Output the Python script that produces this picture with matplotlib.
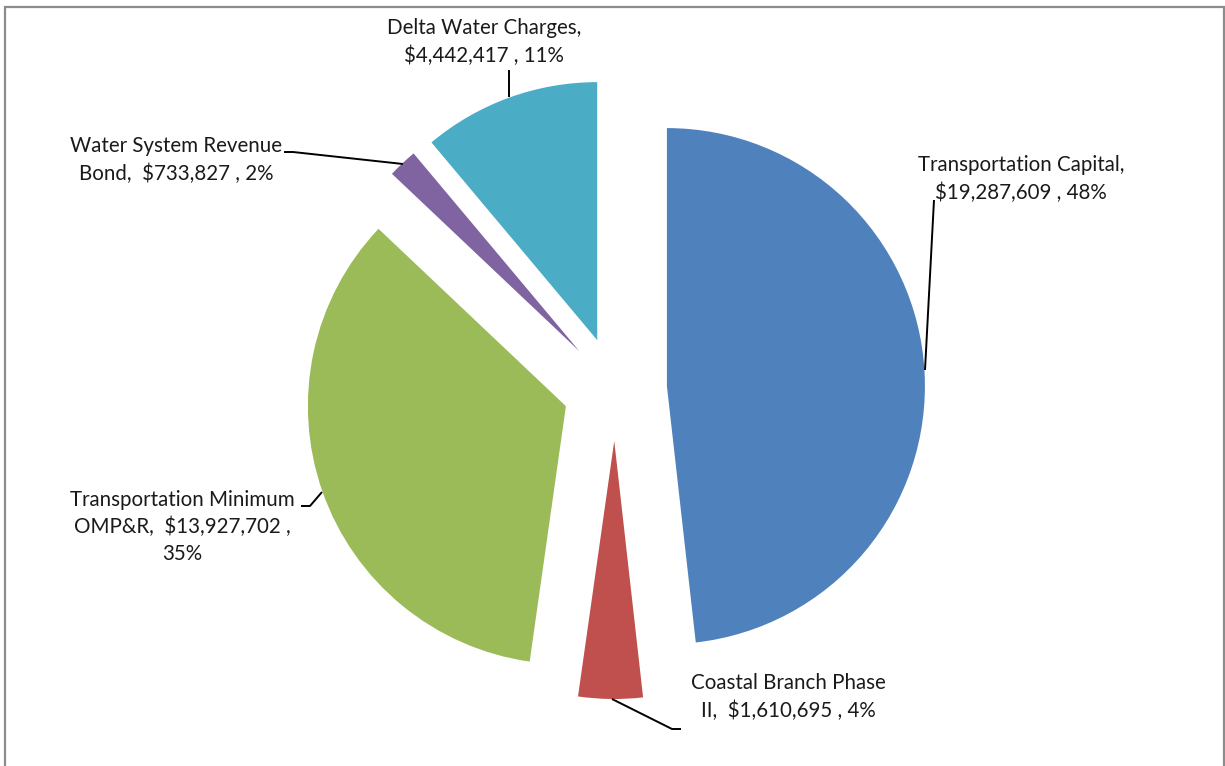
import matplotlib
matplotlib.use("Agg")
import matplotlib.pyplot as plt
from matplotlib.patches import Rectangle

categories = ["Transportation Capital", "Coastal Branch Phase II",
              "Transportation Minimum OMP&R", "Water System Revenue Bond",
              "Delta Water Charges"]
values = [19287609, 1610695, 13927702, 733827, 4442417]
percents = ["48%", "4%", "35%", "2%", "11%"]
colors = ["#4F81BD", "#C0504D", "#9BBB59", "#8064A2", "#4BACC6"]
labels = [
    "Transportation Capital,\n$19,287,609 , 48%",
    "Coastal Branch Phase\nII,  $1,610,695 , 4%",
    "Transportation Minimum\nOMP&R,  $13,927,702 ,\n35%",
    "Water System Revenue\nBond,  $733,827 , 2%",
    "Delta Water Charges,\n$4,442,417 , 11%",
]

W, H = 1225, 766
fig = plt.figure(figsize=(W / 100, H / 100), dpi=100)
fig.patch.set_facecolor("white")
ax = fig.add_axes([0, 0, 1, 1])
ax.set_xlim(0, W)
ax.set_ylim(0, H)
ax.axis("off")

def Y(y):
    return H - y

# explode is in data (pixel) units here
ax.pie(values, radius=258, center=(615, Y(389)), explode=[52] * 5,
       startangle=90, counterclock=False, colors=colors,
       wedgeprops=dict(linewidth=0), frame=False)
ax.set_xlim(0, W)
ax.set_ylim(0, H)
ax.set_aspect("auto")

# border
ax.add_patch(Rectangle((5, Y(800)), 1219, 793, fill=False,
                       edgecolor="#8c8c8c", linewidth=1.6, zorder=5))

font = dict(family="Lato", fontsize=14.8, color="#1a1a1a",
            ha="center", va="center", linespacing=1.42)

label_pos = [(1021, 179), (788, 697), (182, 527), (176, 160), (484, 42)]
for lab, (x, y) in zip(labels, label_pos):
    ax.text(x, Y(y), lab, **font)

leaders = [
    [(934, 200), (925, 370)],
    [(612, 699), (672, 729), (681, 729)],
    [(301, 506), (310, 506), (322, 492)],
    [(284, 152), (293, 152), (403, 164)],
    [(509, 70), (509, 97)],
]
for pts in leaders:
    xs = [p[0] for p in pts]
    ys = [Y(p[1]) for p in pts]
    ax.plot(xs, ys, color="black", linewidth=1.4, solid_capstyle="butt")

fig.savefig("out.png", dpi=100, facecolor="white")
